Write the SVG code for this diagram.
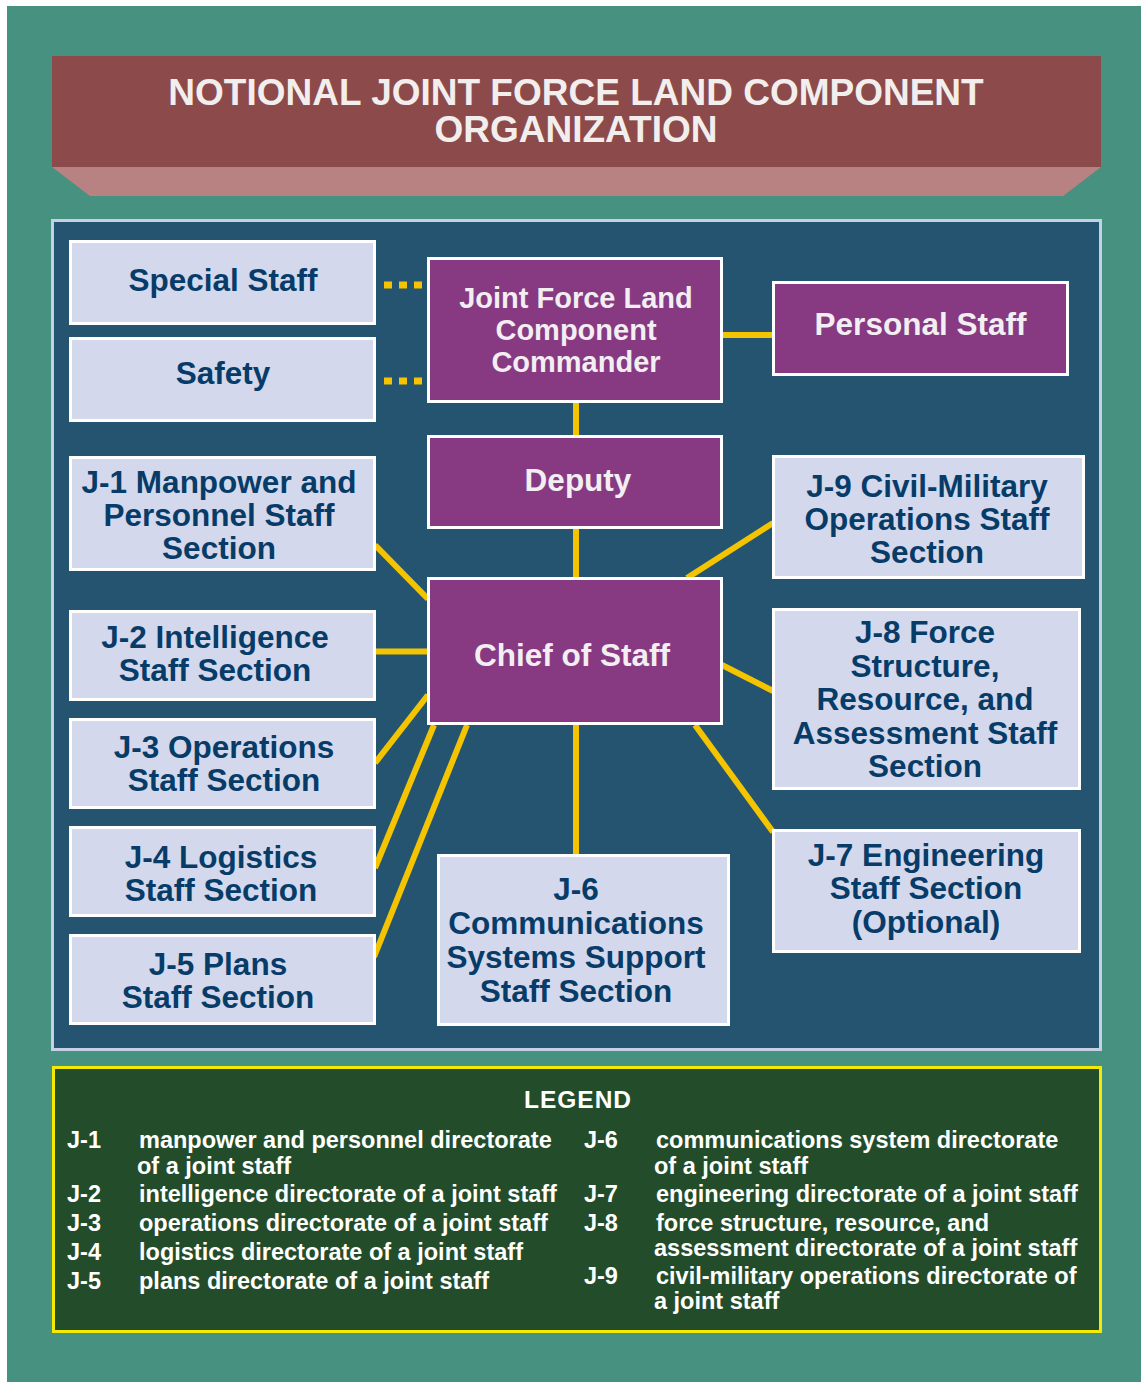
<svg xmlns="http://www.w3.org/2000/svg" width="1141" height="1382" viewBox="0 0 1141 1382">
<style>
.lt{fill:#D3D8EC;stroke:#FFFFFF;stroke-width:3}
.pu{fill:#873A82;stroke:#FFFFFF;stroke-width:3}
.tl{font-family:"Liberation Sans",Arial,sans-serif;font-weight:bold;font-size:31.5px;fill:#073C69;text-anchor:middle}
.tp{font-family:"Liberation Sans",Arial,sans-serif;font-weight:bold;font-size:31.5px;fill:#F2EEF2;text-anchor:middle}
.con{stroke:#F5C400;stroke-width:6;fill:none}
.dot{stroke:#F5C400;stroke-width:7;fill:none;stroke-dasharray:8 7}
.lg{font-family:"Liberation Sans",Arial,sans-serif;font-weight:bold;font-size:24.5px;fill:#FFFFFF}
</style>
<rect x="0" y="0" width="1141" height="1382" fill="#FFFFFF"/>
<rect x="7" y="6" width="1134" height="1376" fill="#46917F"/>
<g id="title">
<rect x="52" y="56" width="1049" height="111" fill="#8D4A4A"/>
<polygon points="52,167 1101,167 1063,196 90,196" fill="#B88282"/>
<text x="576" y="105" font-family="Liberation Sans,Arial,sans-serif" font-weight="bold" font-size="37" fill="#F2EEEE" text-anchor="middle">NOTIONAL JOINT FORCE LAND COMPONENT</text>
<text x="576" y="142" font-family="Liberation Sans,Arial,sans-serif" font-weight="bold" font-size="37" fill="#F2EEEE" text-anchor="middle">ORGANIZATION</text>
</g>
<rect x="52.5" y="220.5" width="1048" height="829" fill="#245470" stroke="#C5D0E4" stroke-width="3"/>
<g id="connectors">
<line class="dot" x1="384" y1="285" x2="422" y2="285"/>
<line class="dot" x1="384" y1="381" x2="422" y2="381"/>
<line class="con" x1="722" y1="335" x2="773" y2="335"/>
<line class="con" x1="576" y1="402" x2="576" y2="436"/>
<line class="con" x1="576" y1="528" x2="576" y2="578"/>
<line class="con" x1="375" y1="545" x2="428" y2="599"/>
<line class="con" x1="375" y1="651.5" x2="428" y2="651.5"/>
<line class="con" x1="375" y1="763" x2="428" y2="695"/>
<line class="con" x1="375" y1="868" x2="434" y2="725"/>
<line class="con" x1="374" y1="957" x2="467" y2="725"/>
<line class="con" x1="576" y1="724" x2="576" y2="855"/>
<line class="con" x1="695" y1="725" x2="773" y2="832"/>
<line class="con" x1="722" y1="665" x2="773" y2="691"/>
<line class="con" x1="687" y1="578" x2="773" y2="523"/>
</g>
<g id="special-staff">
<rect class="lt" x="70.5" y="241.5" width="304" height="82"/>
<text class="tl" x="223" y="291">Special Staff</text>
</g>
<g id="safety">
<rect class="lt" x="70.5" y="338.5" width="304" height="82"/>
<text class="tl" x="223" y="384">Safety</text>
</g>
<g id="j1">
<rect class="lt" x="70.5" y="457.5" width="304" height="112"/>
<text class="tl" x="219" y="493">J-1 Manpower and</text>
<text class="tl" x="219" y="526">Personnel Staff</text>
<text class="tl" x="219" y="559">Section</text>
</g>
<g id="j2">
<rect class="lt" x="70.5" y="611.5" width="304" height="88"/>
<text class="tl" x="215" y="648">J-2 Intelligence</text>
<text class="tl" x="215" y="681">Staff Section</text>
</g>
<g id="j3">
<rect class="lt" x="70.5" y="719.5" width="304" height="88"/>
<text class="tl" x="224" y="758">J-3 Operations</text>
<text class="tl" x="224" y="791">Staff Section</text>
</g>
<g id="j4">
<rect class="lt" x="70.5" y="827.5" width="304" height="88"/>
<text class="tl" x="221" y="868">J-4 Logistics</text>
<text class="tl" x="221" y="901">Staff Section</text>
</g>
<g id="j5">
<rect class="lt" x="70.5" y="935.5" width="304" height="88"/>
<text class="tl" x="218" y="975">J-5 Plans</text>
<text class="tl" x="218" y="1008">Staff Section</text>
</g>
<g id="jflcc">
<rect class="pu" x="428.5" y="258.5" width="293" height="143"/>
<text class="tp" x="576" y="308" style="font-size:29px">Joint Force Land</text>
<text class="tp" x="576" y="340" style="font-size:29px">Component</text>
<text class="tp" x="576" y="372" style="font-size:29px">Commander</text>
</g>
<g id="personal-staff">
<rect class="pu" x="773.5" y="282.5" width="294" height="92"/>
<text class="tp" x="920.5" y="335">Personal Staff</text>
</g>
<g id="deputy">
<rect class="pu" x="428.5" y="436.5" width="293" height="91"/>
<text class="tp" x="578" y="491">Deputy</text>
</g>
<g id="chief-of-staff">
<rect class="pu" x="428.5" y="578.5" width="293" height="145"/>
<text class="tp" x="572" y="666">Chief of Staff</text>
</g>
<g id="j9">
<rect class="lt" x="773.5" y="456.5" width="310" height="121"/>
<text class="tl" x="927" y="497">J-9 Civil-Military</text>
<text class="tl" x="927" y="530">Operations Staff</text>
<text class="tl" x="927" y="563">Section</text>
</g>
<g id="j8">
<rect class="lt" x="773.5" y="609.5" width="306" height="179"/>
<text class="tl" x="925" y="643">J-8 Force</text>
<text class="tl" x="925" y="677">Structure,</text>
<text class="tl" x="925" y="710">Resource, and</text>
<text class="tl" x="925" y="744">Assessment Staff</text>
<text class="tl" x="925" y="777">Section</text>
</g>
<g id="j7">
<rect class="lt" x="773.5" y="830.5" width="306" height="121"/>
<text class="tl" x="926" y="866">J-7 Engineering</text>
<text class="tl" x="926" y="899">Staff Section</text>
<text class="tl" x="926" y="933">(Optional)</text>
</g>
<g id="j6">
<rect class="lt" x="438.5" y="855.5" width="290" height="169"/>
<text class="tl" x="576" y="900">J-6</text>
<text class="tl" x="576" y="934">Communications</text>
<text class="tl" x="576" y="968">Systems Support</text>
<text class="tl" x="576" y="1002">Staff Section</text>
</g>
<g id="legend">
<rect x="53.5" y="1067.5" width="1047" height="264" fill="#234C2A" stroke="#F2EA00" stroke-width="3"/>
<text class="lg" x="578" y="1108" style="letter-spacing:1px" text-anchor="middle">LEGEND</text>
<g transform="scale(0.96,1)">
<text class="lg" x="69.8" y="1148">J-1</text>
<text class="lg" x="144.8" y="1148">manpower and personnel directorate</text>
<text class="lg" x="142.7" y="1174">of a joint staff</text>
<text class="lg" x="69.8" y="1202">J-2</text>
<text class="lg" x="144.8" y="1202">intelligence directorate of a joint staff</text>
<text class="lg" x="69.8" y="1231">J-3</text>
<text class="lg" x="144.8" y="1231">operations directorate of a joint staff</text>
<text class="lg" x="69.8" y="1260">J-4</text>
<text class="lg" x="144.8" y="1260">logistics directorate of a joint staff</text>
<text class="lg" x="69.8" y="1289">J-5</text>
<text class="lg" x="144.8" y="1289">plans directorate of a joint staff</text>
<text class="lg" x="608.3" y="1148">J-6</text>
<text class="lg" x="683.3" y="1148">communications system directorate</text>
<text class="lg" x="681.25" y="1174">of a joint staff</text>
<text class="lg" x="608.3" y="1202">J-7</text>
<text class="lg" x="683.3" y="1202">engineering directorate of a joint staff</text>
<text class="lg" x="608.3" y="1231">J-8</text>
<text class="lg" x="683.3" y="1231">force structure, resource, and</text>
<text class="lg" x="681.25" y="1256">assessment directorate of a joint staff</text>
<text class="lg" x="608.3" y="1284">J-9</text>
<text class="lg" x="683.3" y="1284">civil-military operations directorate of</text>
<text class="lg" x="681.25" y="1309">a joint staff</text>
</g>
</g>
</svg>
